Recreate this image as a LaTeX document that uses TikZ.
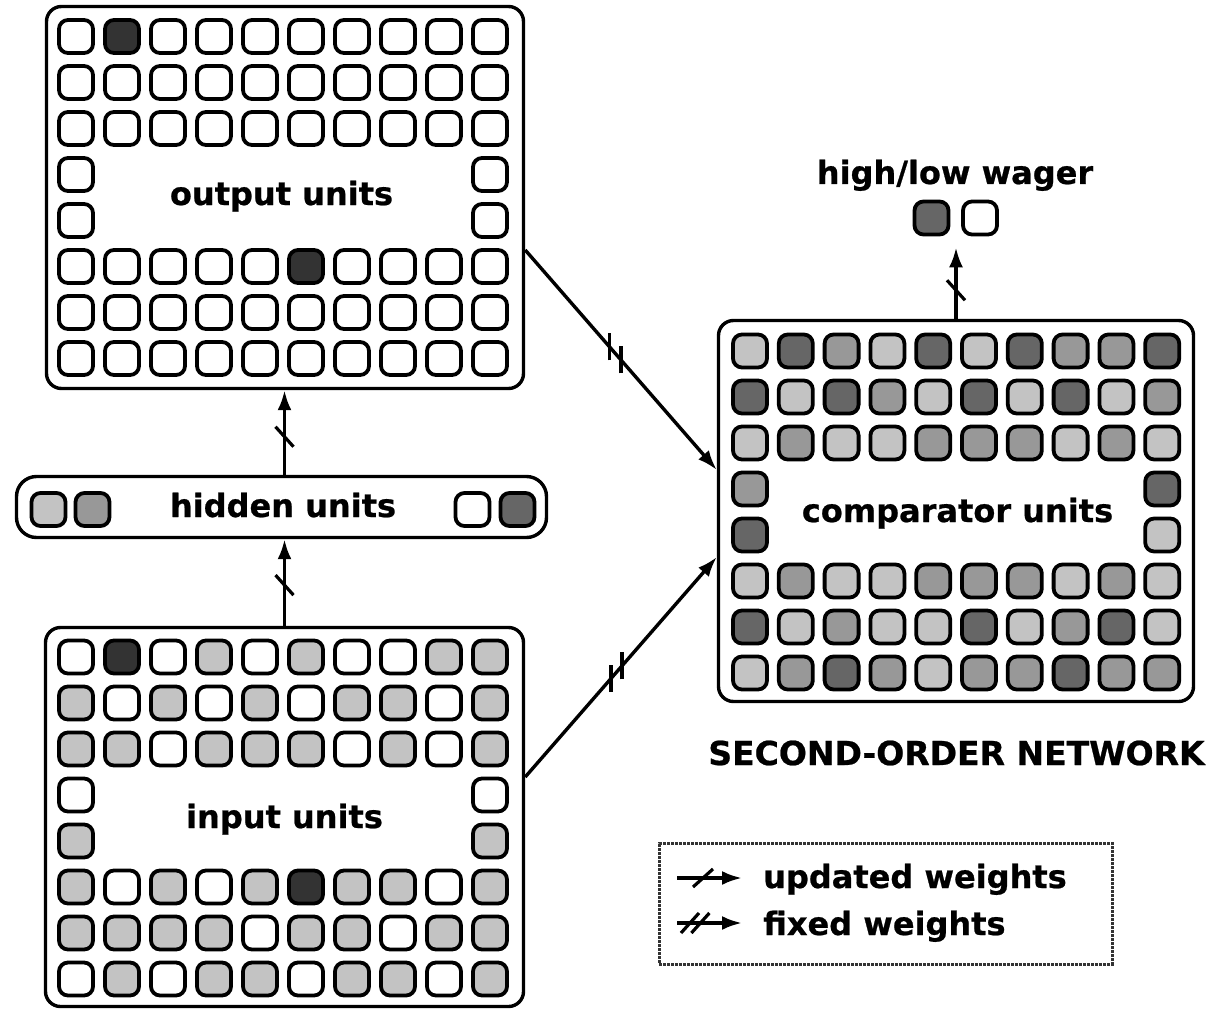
\documentclass[tikz,border=0pt]{standalone}
\usepackage{fontspec}
\setmainfont{DejaVu Sans}[BoldFeatures={FakeBold=0.7}]
\usetikzlibrary{arrows.meta,decorations.markings,calc}

% grey levels of the unit activations
\definecolor{cW}{gray}{1}
\definecolor{cL}{HTML}{C3C3C3}
\definecolor{cM}{HTML}{989898}
\definecolor{cD}{HTML}{666666}
\definecolor{cK}{HTML}{333333}

% one grid of units: name, x of first column, y of first row, column pitch, rows
% (N marks an empty place in the ring of units)
\newcommand\unitgrid[5]{%
  \foreach \r/\row in {#5} {
    \foreach \f [count=\c] in \row {
      \if\f N\else
        \node[cell, fill=c\f] (#1-\r-\c) at ({#2+#4*(\c-1)}, {#3+46*(\r-1)}) {};
      \fi
    }
  }}

\begin{document}
\begin{tikzpicture}[x=1pt, y=-1pt,
  cell/.style={draw, line width=3.8pt, rounded corners=9pt,
    minimum width=34pt, minimum height=33pt, inner sep=0pt},
  box/.style={draw, fill=white, line width=3.4pt, rounded corners=15pt, inner sep=0pt},
  lbl/.style={font=\fontsize{32}{38}\selectfont\bfseries, inner sep=0pt, anchor=base},
  conn/.style={line width=3.4pt, -{Latex[length=20pt, width=14pt]}},
  upd/.style={postaction={decorate, decoration={markings,
    mark=at position #1 with {\draw[line width=3.2pt, -] (-10pt,-9pt) -- (10pt,9pt);}}}},
  upd2/.style 2 args={postaction={decorate, decoration={markings,
    mark=at position #1 with {\draw[line width=3.2pt, -] (-9pt,-10pt) -- (9pt,10pt);},
    mark=at position #2 with {\draw[line width=3.2pt, -] (-9pt,-10pt) -- (9pt,10pt);}}}},
  fixd/.style 2 args={postaction={decorate, decoration={markings,
    mark=at position #1 with {\pgftransformresetnontranslations
      \draw[line width=3.6pt, -] (0pt,-13.5pt) -- (0pt,13.5pt);},
    mark=at position #2 with {\pgftransformresetnontranslations
      \draw[line width=3.6pt, -] (0pt,-13.5pt) -- (0pt,13.5pt);}}}}
]
\useasboundingbox (0,0) rectangle (1209,1011);

% ---- first-order network ----
\node[box, minimum width=477pt, minimum height=382pt] (out) at (285,197.5) {};
\node[box, minimum width=478pt, minimum height=379pt] (in) at (284.5,817) {};
\node[box, rounded corners=20pt, minimum width=530pt, minimum height=61pt] (hid) at (281.5,507) {};

\unitgrid{o}{76}{36.5}{46}{
  1/{W,K,W,W,W,W,W,W,W,W},
  2/{W,W,W,W,W,W,W,W,W,W},
  3/{W,W,W,W,W,W,W,W,W,W},
  4/{W,N,N,N,N,N,N,N,N,W},
  5/{W,N,N,N,N,N,N,N,N,W},
  6/{W,W,W,W,W,K,W,W,W,W},
  7/{W,W,W,W,W,W,W,W,W,W},
  8/{W,W,W,W,W,W,W,W,W,W}}

\unitgrid{i}{76}{657}{46}{
  1/{W,K,W,L,W,L,W,W,L,L},
  2/{L,W,L,W,L,W,L,L,W,L},
  3/{L,L,W,L,L,L,W,L,W,L},
  4/{W,N,N,N,N,N,N,N,N,W},
  5/{L,N,N,N,N,N,N,N,N,L},
  6/{L,W,L,W,L,K,L,L,W,L},
  7/{L,L,L,L,W,L,L,W,L,L},
  8/{W,L,W,L,L,W,L,L,W,L}}

\node[cell, fill=cL] (h1) at (48.5,509.5) {};
\node[cell, fill=cM] (h2) at (92.5,509.5) {};
\node[cell, fill=cW] (h3) at (472.5,509.5) {};
\node[cell, fill=cD] (h4) at (517.5,509.5) {};

\node[lbl] (outlbl) at (281.5,205) {output units};
\node[lbl] (hidlbl) at (283,517) {hidden units};
\node[lbl] (inlbl) at (284.5,828) {input units};

% ---- second-order network ----
\node[box, minimum width=475pt, minimum height=381pt] (cmp) at (956,511) {};
\unitgrid{c}{750}{351}{45.8}{
  1/{L,D,M,L,D,L,D,M,M,D},
  2/{D,L,D,M,L,D,L,D,L,M},
  3/{L,M,L,L,M,M,M,L,M,L},
  4/{M,N,N,N,N,N,N,N,N,D},
  5/{D,N,N,N,N,N,N,N,N,L},
  6/{L,M,L,L,M,M,M,L,M,L},
  7/{D,L,M,L,L,D,L,M,D,L},
  8/{L,M,D,M,L,M,M,D,M,M}}
\node[lbl] (cmplbl) at (957.5,522) {comparator units};
\node[lbl, font=\fontsize{33}{40}\selectfont\bfseries] (sonlbl) at (956.5,765) {SECOND-ORDER NETWORK};

\node[cell, fill=cD] (w1) at (931.5,218) {};
\node[cell, fill=cW] (w2) at (980,218) {};
\node[lbl] (wlbl) at (955,184) {high/low wager};

% ---- connections ----
\draw[conn, upd=0.47] (in.north) -- (in.north |- hid.south);
\draw[conn, upd=0.45] (in.north |- hid.north) -- (in.north |- out.south);
\draw[conn, upd=0.4] (cmp.north) -- ($(cmp.north |- w1.south)+(0,11)$);
\draw[conn, fixd={0.44}{0.50}] ([yshift=-52.5pt]out.east) -- ([yshift=41pt]cmp.west);
\draw[conn, fixd={0.447}{0.505}] ([yshift=40pt]in.east) -- ([yshift=-46pt]cmp.west);

% ---- legend ----
\node[draw=black!80, line width=3pt, dash pattern=on 3pt off 1pt,
  minimum width=453pt, minimum height=121pt, inner sep=0pt] (leg) at (885.5,903.5) {};
\coordinate (k1s) at (677,878);
\coordinate (k1e) at (742,878);
\coordinate (k2s) at (677,923);
\coordinate (k2e) at (742,923);
\draw[conn, upd=0.4] (k1s) -- (k1e);
\draw[conn, upd2={0.2}{0.36}] (k2s) -- (k2e);
\node[lbl, anchor=base west] (k1lbl) at (763,888) {updated weights};
\node[lbl, anchor=base west] (k2lbl) at (763,935) {fixed weights};
\end{tikzpicture}
\end{document}
